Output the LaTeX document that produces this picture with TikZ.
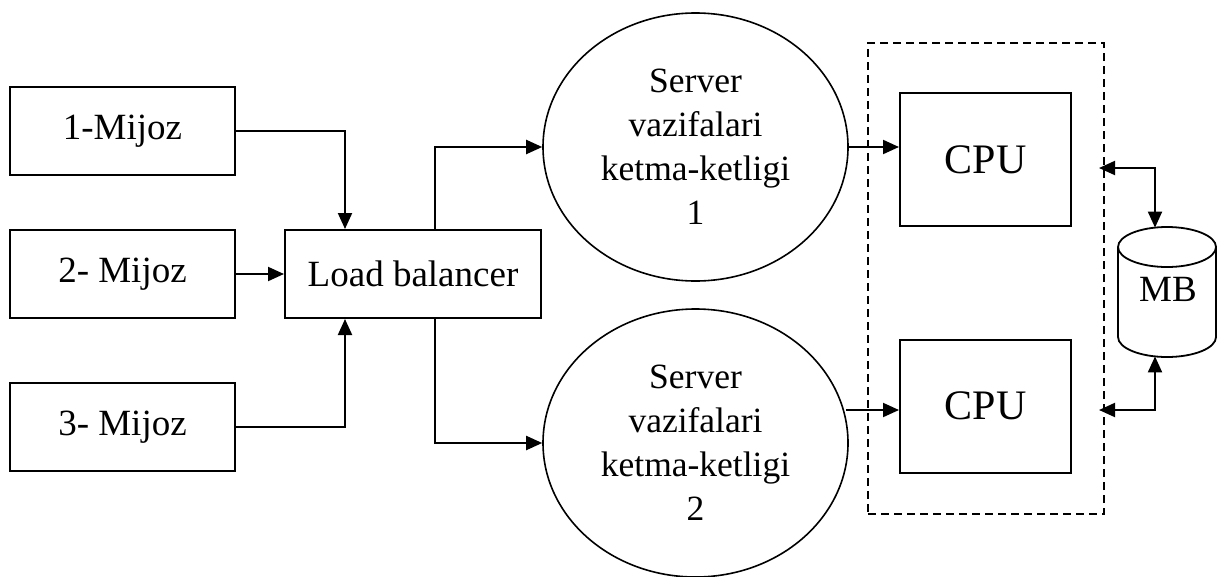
\documentclass[tikz,border=0pt]{standalone}
\usepackage{fontspec}
\setmainfont{Liberation Serif}
\usetikzlibrary{arrows.meta,shapes.geometric,calc}
\begin{document}
\begin{tikzpicture}[x=1pt,y=-1pt,
  box/.style={draw,line width=2pt,inner sep=0pt,font=\fontsize{37}{44}\selectfont},
  cpubox/.style={draw,line width=2pt,inner sep=0pt,minimum width=171pt,minimum height=133pt,font=\fontsize{42}{50}\selectfont},
  srv/.style={draw,ellipse,line width=1.6pt,inner sep=0pt,minimum width=305pt,minimum height=268pt,align=center,font=\fontsize{35.5}{44}\selectfont},
  arr/.style={line width=2pt,-{Triangle[length=16pt,width=14pt]}},
  darr/.style={line width=2pt,{Triangle[length=16pt,width=14pt]}-{Triangle[length=16pt,width=14pt]}},
  grpbox/.style={draw,line width=2pt,dash pattern=on 8pt off 5pt,inner sep=0pt}]
\useasboundingbox (0,0) rectangle (1217,576);

\node[box,minimum width=225pt,minimum height=88pt] (m1) at (122.5,131) {1-Mijoz};
\node[box,minimum width=225pt,minimum height=88pt] (m2) at (122.5,274) {2- Mijoz};
\node[box,minimum width=225pt,minimum height=88pt] (m3) at (122.5,427) {3- Mijoz};
\node[box,minimum width=256pt,minimum height=88pt] (lb) at (413,274) {Load balancer};

\node[srv] (s1) at (695.5,147) {Server\\vazifalari\\ketma-ketligi\\1};
\node[srv] (s2) at (695.5,443) {Server\\vazifalari\\ketma-ketligi\\2};

\node[grpbox,minimum width=236pt,minimum height=471pt] (grp) at (986,278.5) {};
\node[cpubox] (c1) at (985.5,159.5) {CPU};
\node[cpubox] (c2) at (985.5,406) {CPU};

% cylinder MB
\draw[line width=1.8pt,fill=white] (1118,247) -- (1118,337) arc[start angle=180,end angle=360,x radius=49,y radius=-20] -- (1216,247);
\draw[line width=1.8pt] (1167,247) ellipse[x radius=49,y radius=20];
\node[font=\fontsize{37}{44}\selectfont,inner sep=0pt] (mb) at (1168,289) {MB};
\coordinate (mbt) at (1155,227.6);
\coordinate (mbb) at (1155,356.4);

% connectors
\draw[arr] (m1.east) -| ($(lb.north)+(-68,0)$);
\draw[arr] (m2.east) -- (lb.west);
\draw[arr] (m3.east) -| ($(lb.south)+(-68,0)$);
\draw[arr] ($(lb.north)+(22,0)$) |- (s1.west);
\draw[arr] ($(lb.south)+(22,0)$) |- (s2.west);
\draw[arr] (s1.east) -- (s1.east -| c1.west);
\coordinate (s2out) at ($(s2.east)+(-3,-33)$);
\draw[arr] (s2out) -- (s2out -| c2.west);

\coordinate (t1) at ($(grp.east)+(-6,0)$);
\draw[darr] (t1 |- 0,168) -| (mbt);
\draw[darr] (t1 |- 0,410) -| (mbb);
\end{tikzpicture}
\end{document}
